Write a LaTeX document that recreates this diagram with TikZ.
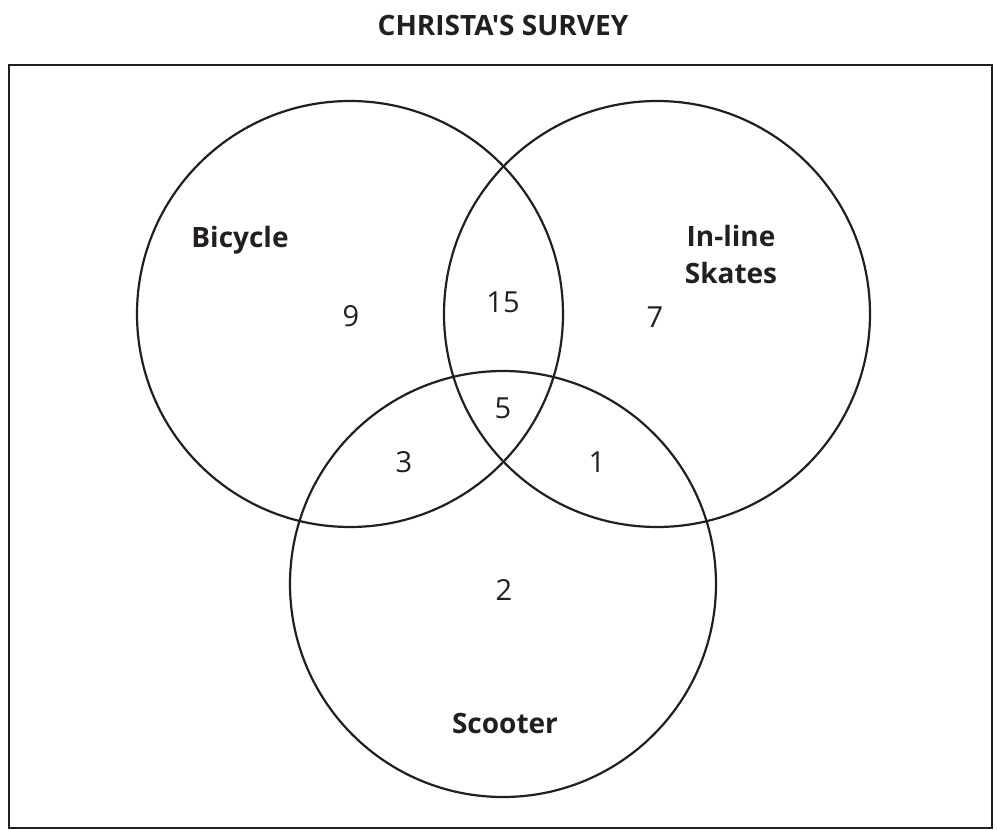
\documentclass[tikz,border=0pt]{standalone}
\usepackage{fontspec}
\setmainfont{Open Sans}
\newfontfamily\plainfont{Open Sans}
\definecolor{ink}{HTML}{231F20}
\begin{document}
\begin{tikzpicture}[x=1pt,y=-1pt,
  setcircle/.style={draw=ink,line width=2.2pt},
  setlabel/.style={anchor=base,inner sep=0pt,text=ink,font=\fontsize{28}{37}\selectfont\bfseries,align=center},
  count/.style={anchor=base,inner sep=0pt,text=ink,font=\fontsize{29}{35}\selectfont},
  titlestyle/.style={anchor=base,inner sep=0pt,text=ink,font=\plainfont\fontsize{28}{34}\selectfont\bfseries}]
\useasboundingbox (0,0) rectangle (997,830);
\node[titlestyle] (title) at (503,35) {CHRISTA'S SURVEY};
\draw[draw=ink,line width=2.8pt] (9,65) rectangle (992,828);
\node[setcircle,circle,minimum size=426pt,inner sep=0pt] (bike) at (350,314) {};
\node[setcircle,circle,minimum size=426pt,inner sep=0pt] (skate) at (657,314) {};
\node[setcircle,circle,minimum size=426pt,inner sep=0pt] (scoot) at (503,584) {};
\node[setlabel] (bikelbl) at (240,247) {Bicycle};
\node[setlabel] (skatelbl) at (731,283) {In-line\\Skates};
\node[setlabel] (scootlbl) at (505,733) {Scooter};
\node[count] (n9) at (351,326) {9};
\node[count] (n15) at (503,312) {15};
\node[count] (n7) at (655,327) {7};
\node[count] (n5) at (503,418) {5};
\node[count] (n3) at (404,472) {3};
\node[count] (n1) at (597,472) {1};
\node[count] (n2) at (504,600) {2};
\end{tikzpicture}
\end{document}
